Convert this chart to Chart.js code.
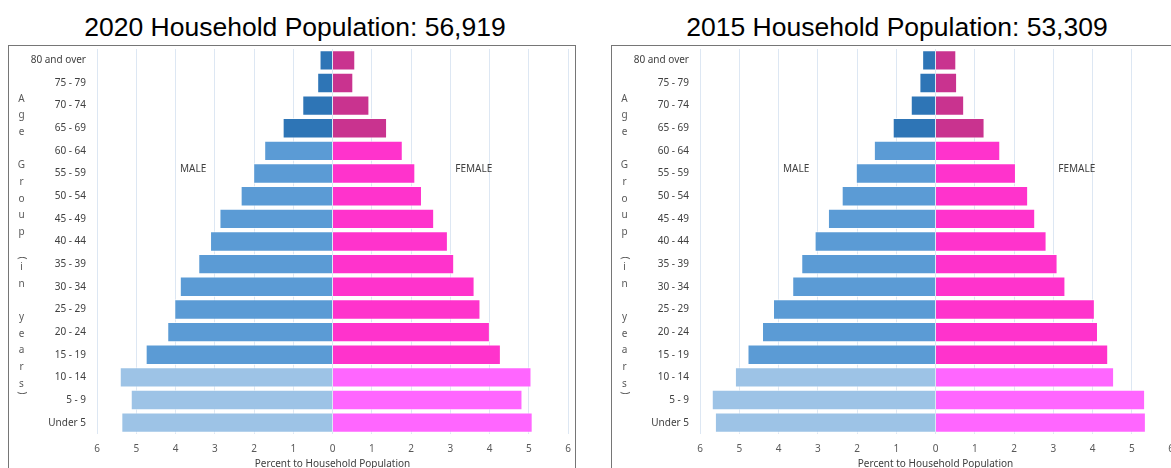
<!DOCTYPE html>
<html>
<head>
<meta charset="utf-8">
<script src="https://cdn.jsdelivr.net/npm/chart.js@4.4.0/dist/chart.umd.min.js"></script>
<style>
body { margin:0; width:1171px; height:468px; overflow:hidden; background:#fff; position:relative; font-family:"Liberation Sans", Arial, sans-serif; }
.title { position:absolute; top:12px; width:568px; text-align:center; font-size:26.5px; line-height:30px; color:#000; }
.box { position:absolute; top:45px; width:568px; height:440px; border:1px solid #767676; box-sizing:border-box; }
.wrap { position:absolute; top:45px; width:568px; height:430px; }
</style>
</head>
<body>
<div class="title" style="left:11px">2020 Household Population: 56,919</div>
<div class="title" style="left:613px">2015 Household Population: 53,309</div>
<div class="box" style="left:8px"></div>
<div class="box" style="left:611px"></div>
<div class="wrap" style="left:8px"><canvas id="chart2020"></canvas></div>
<div class="wrap" style="left:611px"><canvas id="chart2015"></canvas></div>
<script>
// age groups, top of the pyramid first
let ageGroups = ["80 and over", "75 - 79", "70 - 74", "65 - 69", "60 - 64", "55 - 59", "50 - 54",
    "45 - 49", "40 - 44", "35 - 39", "30 - 34", "25 - 29", "20 - 24", "15 - 19", "10 - 14", "5 - 9", "Under 5"];

// percent to household population
let male2020   = [0.33, 0.39, 0.77, 1.27, 1.74, 2.02, 2.34, 2.88, 3.12, 3.42, 3.89, 4.03, 4.21, 4.76, 5.42, 5.14, 5.38];
let female2020 = [0.58, 0.53, 0.94, 1.39, 1.79, 2.11, 2.28, 2.59, 2.94, 3.10, 3.62, 3.77, 4.01, 4.29, 5.07, 4.84, 5.10];
let male2015   = [0.34, 0.41, 0.63, 1.09, 1.57, 2.03, 2.39, 2.74, 3.08, 3.42, 3.65, 4.14, 4.42, 4.79, 5.11, 5.70, 5.62];
let female2015 = [0.53, 0.55, 0.73, 1.25, 1.65, 2.05, 2.36, 2.54, 2.83, 3.11, 3.31, 4.06, 4.14, 4.40, 4.55, 5.34, 5.36];

let xTicks = [-6, -5, -4, -3, -2, -1, 0, 1, 2, 3, 4, 5, 6];
let axisTitle = "Percent to Household Population";
let yTitle = "Age Group (in years)";

let maleColors = ["#2e75b6", "#5b9bd5", "#9dc3e6"];
let femaleColors = ["#c9338f", "#ff33cc", "#ff66ff"];
function shade(i)
{
    if (i < 4) return 0;
    if (i < 14) return 1;
    return 2;
}

let sideLabels = {
    id: "sideLabels",
    afterDraw: function(chart)
    {
        let ctx = chart.ctx;
        let x = chart.scales.x, y = chart.scales.y;
        ctx.save();
        ctx.fillStyle = "#404040";
        ctx.font = "10px 'Noto Sans'";
        ctx.textAlign = "center";
        ctx.textBaseline = "middle";
        let ly = y.getPixelForValue(4.8);
        ctx.fillText("MALE", x.getPixelForValue(-3.55), ly);
        ctx.fillText("FEMALE", x.getPixelForValue(3.6), ly);

        // stacked letters of the age axis title
        ctx.fillStyle = "#595959";
        let py = 53.7, prev = "";
        for (let c of yTitle)
        {
            if (c == "(" || c == ")" || prev == "(") py -= 7.7;
            if (c != " ")
            {
                ctx.save();
                ctx.translate(13.5, py);
                if (c == "(" || c == ")") ctx.rotate(Math.PI / 2);
                ctx.fillText(c, 0, 0);
                ctx.restore();
            }
            py += 16.7;
            prev = c;
        }
        ctx.restore();
    }
};

function makeChart(id, male, female)
{
    let ctx = document.getElementById(id).getContext("2d");
    return new Chart(ctx,
    {
        type: "bar",
        data:
        {
            labels: ageGroups,
            datasets: [
                {
                    label: "Male",
                    data: male.map(v => -v),
                    backgroundColor: male.map((v, i) => maleColors[shade(i)]),
                    borderColor: "rgba(255,255,255,0.7)",
                    borderWidth: 1
                },
                {
                    label: "Female",
                    data: female,
                    backgroundColor: female.map((v, i) => femaleColors[shade(i)]),
                    borderColor: "rgba(255,255,255,0.7)",
                    borderWidth: 1
                }
            ]
        },
        options:
        {
            indexAxis: "y",
            responsive: true,
            maintainAspectRatio: false,
            animation: false,
            categoryPercentage: 0.9,
            barPercentage: 1,
            layout: { padding: { top: 4, right: 8, left: 0, bottom: 0 } },
            plugins: { legend: { display: false }, tooltip: { enabled: false } },
            scales:
            {
                x:
                {
                    stacked: true,
                    min: xTicks[0],
                    max: xTicks[xTicks.length - 1],
                    afterBuildTicks: function(s) { s.ticks = xTicks.map(v => ({ value: v })); },
                    afterFit: function(s)
                    {
                        s.height = 41;
                        s.paddingLeft = 0;
                        s.paddingRight = 0;
                    },
                    grid: { color: "#dde7f3", drawTicks: false },
                    border: { display: false },
                    ticks:
                    {
                        padding: 9.5,
                        color: "#595959",
                        font: { family: "'Noto Sans'", size: 10 },
                        callback: v => Math.abs(v)
                    },
                    title:
                    {
                        display: true,
                        text: axisTitle,
                        color: "#404040",
                        font: { family: "'Noto Sans'", size: 10 },
                        padding: { top: 0, bottom: 5 }
                    }
                },
                y:
                {
                    stacked: true,
                    afterFit: function(s)
                    {
                        s.width = 89;
                        s.paddingTop = 0;
                        s.paddingBottom = 0;
                    },
                    grid: { display: false, drawTicks: false },
                    border: { display: false },
                    ticks:
                    {
                        padding: 11,
                        color: "#404040",
                        font: { family: "'Noto Sans'", size: 10 }
                    }
                }
            }
        },
        plugins: [sideLabels]
    });
}

makeChart("chart2020", male2020, female2020);
makeChart("chart2015", male2015, female2015);
</script>
</body>
</html>
